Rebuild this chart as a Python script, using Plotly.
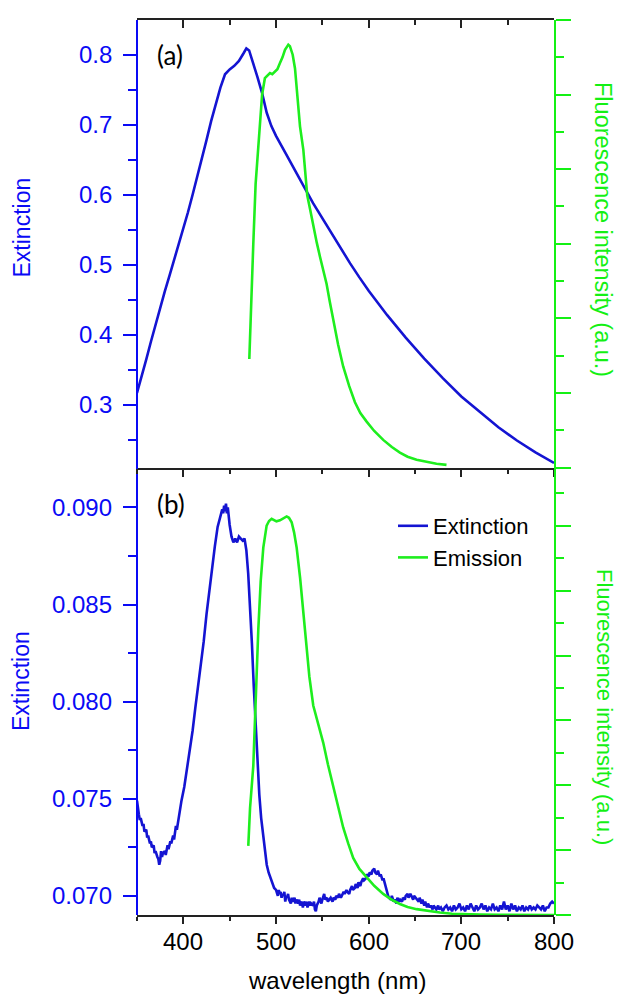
import plotly.graph_objects as go

# ---------------- data ----------------
# Panel (a): extinction
wl_ext_a = [350, 355, 360, 365, 370, 375, 380, 385, 390, 395, 400, 405, 410, 415, 420,
            425, 430, 435, 440, 445, 450, 455, 460, 465, 468, 471, 475, 480, 485, 490,
            495, 500, 510, 520, 530, 540, 550, 560, 570, 580, 590, 600, 620, 640, 660,
            680, 700, 720, 740, 760, 780, 800]
ext_a = [0.317, 0.340, 0.365, 0.390, 0.415, 0.440, 0.462, 0.484, 0.506, 0.528, 0.550,
         0.575, 0.600, 0.625, 0.650, 0.678, 0.705, 0.728, 0.753, 0.772, 0.779, 0.784,
         0.791, 0.802, 0.809, 0.806, 0.790, 0.768, 0.745, 0.717, 0.698, 0.684, 0.660,
         0.635, 0.612, 0.588, 0.566, 0.545, 0.523, 0.502, 0.482, 0.463, 0.428, 0.396,
         0.366, 0.338, 0.312, 0.290, 0.268, 0.249, 0.232, 0.217]

# Panel (a): emission
wl_em_a = [471.2, 473, 475.5, 478, 481, 483, 485, 488, 490.5, 493.5, 496, 499, 501.5,
           504.3, 507, 509.7, 511.5, 513.3, 515, 518, 520.5, 522.3, 525.9, 529.5, 533.7,
           537, 540.2, 544, 547.4, 551, 554.6, 558, 561.8, 567, 572.5, 579, 585.2, 591,
           597.8, 606, 615.7, 625, 633.7, 642, 651.7, 662, 673.2, 684]
em_a = [0.291, 0.40, 0.60, 0.76, 0.86, 0.95, 1.00, 1.044, 1.050, 1.058, 1.055, 1.062,
        1.068, 1.085, 1.100, 1.120, 1.128, 1.134, 1.130, 1.107, 1.070, 1.022, 0.915,
        0.852, 0.730, 0.690, 0.647, 0.603, 0.566, 0.530, 0.492, 0.445, 0.396, 0.330,
        0.271, 0.218, 0.175, 0.146, 0.123, 0.098, 0.074, 0.055, 0.040, 0.029, 0.021,
        0.015, 0.010, 0.007]

# Panel (b): extinction
wl_ext_b = [350, 351, 352, 353, 354, 356, 357, 358, 360, 361, 362, 364, 365, 366, 368,
            369, 370, 372, 373, 374, 375, 376, 377, 378, 380, 381, 383, 384, 386, 387,
            389, 390, 392, 393, 395, 396, 398, 401, 404, 407, 410, 413, 416, 419, 422,
            425, 428, 431, 434, 437, 440, 442, 443, 444, 445, 446, 447, 448, 450, 452,
            454, 456, 458, 460, 462, 464, 466, 468, 470, 472, 474, 476, 478, 480, 482,
            484, 486, 488, 490, 492, 494, 496, 498, 500, 501, 502, 503, 504, 505, 506,
            507, 508, 509, 510, 511, 512, 513, 514, 516, 517, 518, 520, 521, 522, 524,
            525, 526, 528, 529, 530, 532, 533, 534, 536, 537, 538, 540, 541, 542, 543,
            544, 546, 547, 549, 550, 552, 553, 555, 556, 558, 559, 561, 562, 564, 565,
            567, 568, 570, 571, 573, 574, 576, 577, 579, 580, 582, 583, 585, 586, 588,
            589, 591, 592, 594, 595, 597, 598, 600, 601, 603, 604, 606, 607, 609, 610,
            612, 613, 615, 616, 618, 619, 621, 622, 624, 625, 627, 628, 630, 631, 633,
            634, 636, 637, 639, 640, 642, 643, 645, 646, 648, 649, 651, 652, 654, 655,
            657, 658, 660, 661, 663, 664, 666, 667, 669, 670, 672, 673, 675, 676, 678,
            680, 682, 684, 686, 688, 690, 692, 694, 696, 698, 700, 702, 704, 706, 708,
            710, 712, 714, 716, 718, 720, 722, 724, 726, 728, 730, 732, 734, 736, 738,
            740, 742, 744, 746, 748, 750, 752, 754, 756, 758, 760, 762, 764, 766, 768,
            770, 772, 774, 776, 778, 780, 782, 784, 786, 788, 790, 792, 794, 796, 798,
            800]
ext_b = [0.0749, 0.0744, 0.0742, 0.0739, 0.0740, 0.0736, 0.0737, 0.0733, 0.0734, 0.0730,
         0.0731, 0.0727, 0.0728, 0.0725, 0.0726, 0.0722, 0.0723, 0.0720, 0.0719, 0.0716,
         0.0718, 0.0723, 0.0720, 0.0722, 0.0723, 0.0721, 0.0726, 0.0724, 0.0728, 0.0727,
         0.0731, 0.0729, 0.0736, 0.0734, 0.0741, 0.0742, 0.0749, 0.0756, 0.0766, 0.0774,
         0.0785, 0.0797, 0.0808, 0.0819, 0.0831, 0.0845, 0.0857, 0.0870, 0.0880, 0.0890,
         0.0896, 0.0899, 0.0897, 0.0901, 0.0898, 0.0902, 0.0897, 0.0900, 0.0891, 0.0885,
         0.0882, 0.0884, 0.0882, 0.0885, 0.0884, 0.0883, 0.0884, 0.0878, 0.0866, 0.0850,
         0.0830, 0.0808, 0.0788, 0.0768, 0.0752, 0.0740, 0.0731, 0.0722, 0.0716, 0.0712,
         0.0709, 0.0706, 0.0704, 0.0703, 0.0701, 0.0700, 0.0703, 0.0701, 0.0702, 0.0699,
         0.0701, 0.0700, 0.0702, 0.0697, 0.0700, 0.0699, 0.0701, 0.0698, 0.0696, 0.0699,
         0.0697, 0.0699, 0.0696, 0.0698, 0.0696, 0.0698, 0.0695, 0.0697, 0.0694, 0.0697,
         0.0695, 0.0697, 0.0694, 0.0697, 0.0695, 0.0696, 0.0695, 0.0697, 0.0693, 0.0692,
         0.0695, 0.0697, 0.0699, 0.0696, 0.0698, 0.0701, 0.0698, 0.0699, 0.0697, 0.0698,
         0.0699, 0.0697, 0.0699, 0.0698, 0.0700, 0.0699, 0.0701, 0.0699, 0.0700, 0.0702,
         0.0701, 0.0703, 0.0702, 0.0701, 0.0703, 0.0705, 0.0703, 0.0704, 0.0706, 0.0704,
         0.0707, 0.0705, 0.0707, 0.0709, 0.0708, 0.0709, 0.0711, 0.0710, 0.0712, 0.0711,
         0.0713, 0.0714, 0.0712, 0.0711, 0.0713, 0.0710, 0.0711, 0.0708, 0.0709, 0.0705,
         0.0703, 0.0700, 0.0699, 0.0698, 0.0700, 0.0697, 0.0698, 0.0696, 0.0699, 0.0697,
         0.0698, 0.0697, 0.0699, 0.0698, 0.0700, 0.0701, 0.0699, 0.0701, 0.0700, 0.0698,
         0.0700, 0.0699, 0.0698, 0.0697, 0.0699, 0.0696, 0.0698, 0.0695, 0.0697, 0.0694,
         0.0696, 0.0694, 0.0695, 0.0693, 0.0695, 0.0694, 0.0693, 0.0695, 0.0693, 0.0694,
         0.0692, 0.0694, 0.0695, 0.0693, 0.0694, 0.0692, 0.0695, 0.0693, 0.0694, 0.0696,
         0.0693, 0.0694, 0.0692, 0.0695, 0.0693, 0.0696, 0.0694, 0.0692, 0.0695, 0.0693,
         0.0694, 0.0696, 0.0693, 0.0695, 0.0692, 0.0694, 0.0693, 0.0696, 0.0693, 0.0694,
         0.0692, 0.0695, 0.0693, 0.0697, 0.0693, 0.0695, 0.0692, 0.0696, 0.0693, 0.0695,
         0.0692, 0.0694, 0.0693, 0.0695, 0.0692, 0.0694, 0.0693, 0.0695, 0.0693, 0.0694,
         0.0693, 0.0695, 0.0694, 0.0693, 0.0695, 0.0692, 0.0694, 0.0694, 0.0696, 0.0697,
         0.0696]

# Panel (b): emission
wl_em_b = [470.1, 472, 475.5, 478, 480.9, 483.5, 486.3, 489.9, 492.5, 495.3, 498, 500.5,
           504.3, 508, 511.5, 514, 516.9, 519.5, 522.3, 526, 529.5, 533, 536, 540.2, 544,
           547.4, 551, 556, 561.8, 567, 572.5, 578, 583.3, 590, 597.8, 606, 615.7, 625,
           633.7, 642, 651.7, 664, 676.8, 690, 705.6, 720, 741.5, 770, 800]
em_b = [0.213, 0.33, 0.46, 0.66, 0.88, 1.03, 1.133, 1.201, 1.215, 1.222, 1.218, 1.214,
        1.217, 1.222, 1.229, 1.225, 1.211, 1.180, 1.133, 1.040, 0.933, 0.817, 0.735,
        0.646, 0.604, 0.568, 0.531, 0.465, 0.394, 0.330, 0.270, 0.220, 0.176, 0.142,
        0.118, 0.090, 0.065, 0.047, 0.034, 0.025, 0.018, 0.012, 0.0076, 0.004, 0.002,
        0.0015, 0.001, 0.0005, 0.0]

# tick labels
xtick_vals = [400, 500, 600, 700, 800]
xtick_text = ["400", "500", "600", "700", "800"]
ytick_a_vals = [0.3, 0.4, 0.5, 0.6, 0.7, 0.8]
ytick_a_text = ["0.3", "0.4", "0.5", "0.6", "0.7", "0.8"]
ytick_b_vals = [0.070, 0.075, 0.080, 0.085, 0.090]
ytick_b_text = ["0.070", "0.075", "0.080", "0.085", "0.090"]

# ---------------- styles ----------------
BLUE_LINE = "#1414D2"
BLUE_AX = "#0A0AF5"
GREEN = "#1EEE1E"
GREEN_AX = "#14F014"
BLACK = "#222222"
FONT = "Liberation Sans, Arial, sans-serif"

W, H = 619, 994
ML, MR, MT, MB = 137, 65, 20, 79
PW = W - ML - MR
PH = H - MT - MB


def px_to_paper(x, y):
    return (x - ML) / PW, (H - MB - y) / PH


fig = go.Figure()

fig.add_trace(go.Scatter(x=wl_ext_a, y=ext_a, mode="lines", xaxis="x", yaxis="y",
                         line=dict(color=BLUE_LINE, width=2.6), showlegend=False))
fig.add_trace(go.Scatter(x=wl_em_a, y=em_a, mode="lines", xaxis="x5", yaxis="y2",
                         line=dict(color=GREEN, width=2.6), showlegend=False))
fig.add_trace(go.Scatter(x=wl_ext_b, y=ext_b, mode="lines", xaxis="x2", yaxis="y3",
                         name="Extinction", line=dict(color=BLUE_LINE, width=2.6)))
fig.add_trace(go.Scatter(x=wl_em_b, y=em_b, mode="lines", xaxis="x6", yaxis="y4",
                         name="Emission", line=dict(color=GREEN, width=2.6)))

XR = [350, 800]
YR_A = [0.2105, 0.8495]
YR_B = [0.06901, 0.09206]
TOP = [0.5, 1]
BOT = [0, 0.5]

base = dict(showgrid=False, zeroline=False, showticklabels=False)


def xax(**kw):
    d = dict(base, domain=[0, 1], range=XR, showline=True, linecolor=BLACK, linewidth=1.5,
             tickcolor=BLACK, tickwidth=2, dtick=100)
    d.update(kw)
    return d


def blue_ax(**kw):
    # right-side axis placed at the left edge: "inside" ticks point left into the margin
    d = dict(base, side="right", anchor="free", position=0, showline=True,
             linecolor=BLUE_AX, linewidth=2, ticks="inside", ticklen=13, tickwidth=2,
             tickcolor=BLUE_AX, tick0=0)
    d.update(kw)
    return d


def green_ax(**kw):
    d = dict(base, side="right", showline=True, linecolor=GREEN_AX, linewidth=2,
             ticks="outside", ticklen=15, tickwidth=2, tickcolor=GREEN_AX, tick0=0, dtick=0.2,
             minor=dict(dtick=0.1, ticks="outside", ticklen=8, tickcolor=GREEN_AX, tickwidth=2))
    d.update(kw)
    return d


fig.update_layout(
    width=W, height=H,
    margin=dict(l=ML, r=MR, t=MT, b=MB, pad=0),
    paper_bgcolor="white", plot_bgcolor="rgba(0,0,0,0)",
    font=dict(family=FONT, size=12, color="black"),
    xaxis=xax(anchor="y", side="top", mirror=True, ticks="inside", ticklen=8,
              minor=dict(dtick=50, ticks="inside", ticklen=5, tickcolor=BLACK, tickwidth=2)),
    yaxis=blue_ax(domain=TOP, range=YR_A, dtick=0.1,
                  minor=dict(dtick=0.05, ticks="inside", ticklen=8, tickcolor=BLUE_AX, tickwidth=2)),
    xaxis5=xax(anchor="y2", side="bottom", ticks="outside", ticklen=8, showline=False,
               minor=dict(dtick=50, ticks="outside", ticklen=5, tickcolor=BLACK, tickwidth=2)),
    yaxis2=green_ax(domain=TOP, anchor="x5", range=[0, 1.2001]),
    xaxis2=xax(anchor="y3", side="bottom", ticks="outside", ticklen=7,
               minor=dict(dtick=50, ticks="outside", ticklen=4, tickcolor=BLACK, tickwidth=2)),
    yaxis3=blue_ax(domain=BOT, range=YR_B, dtick=0.005,
                   minor=dict(dtick=0.0025, ticks="inside", ticklen=8, tickcolor=BLUE_AX, tickwidth=2)),
    xaxis6=xax(anchor="y4", side="bottom", ticks="", showline=False),
    yaxis4=green_ax(domain=BOT, anchor="x6", range=[0, 1.38]),
    legend=dict(x=px_to_paper(393, 0)[0], y=px_to_paper(0, 505)[1], xanchor="left",
                yanchor="top", bgcolor="rgba(0,0,0,0)", borderwidth=0,
                font=dict(size=22, color="black", family=FONT), tracegroupgap=0),
)

lab_x = px_to_paper(114, 0)[0]
for v, t in zip(ytick_a_vals, ytick_a_text):
    fig.add_annotation(text=t, x=lab_x, y=v, xref="paper", yref="y", xanchor="right",
                       yanchor="middle", showarrow=False,
                       font=dict(size=24, color=BLUE_AX, family=FONT))
for v, t in zip(ytick_b_vals, ytick_b_text):
    fig.add_annotation(text=t, x=lab_x, y=v, xref="paper", yref="y3", xanchor="right",
                       yanchor="middle", showarrow=False,
                       font=dict(size=24, color=BLUE_AX, family=FONT))
lab_y = px_to_paper(0, 942)[1]
for v, t in zip(xtick_vals, xtick_text):
    fig.add_annotation(text=t, x=v, y=lab_y, xref="x2", yref="paper", xanchor="center",
                       yanchor="middle", showarrow=False,
                       font=dict(size=24, color="black", family=FONT))

annots = [
    ("Extinction", 22, 227.5, -90, BLUE_AX, 23, FONT),
    ("Extinction", 21, 681, -90, BLUE_AX, 23, FONT),
    ("Fluorescence intensity (a.u.)", 603, 229, 90, GREEN_AX, 23.5, FONT),
    ("Fluorescence intensity (a.u.)", 605, 707, 90, GREEN_AX, 22, FONT),
    ("wavelength (nm)", 337, 980, 0, "black", 24, FONT),
    ("(a)", 170, 55, 0, "black", 26, "Lato, Open Sans, sans-serif"),
    ("(b)", 171, 504, 0, "black", 26, "Lato, Open Sans, sans-serif"),
]
for text, x, y, ang, col, size, fam in annots:
    px, py = px_to_paper(x, y)
    fig.add_annotation(text=text, x=px, y=py, xref="paper", yref="paper",
                       xanchor="center", yanchor="middle", showarrow=False,
                       textangle=ang, font=dict(color=col, size=size, family=fam))

fig.write_html("out.html")
